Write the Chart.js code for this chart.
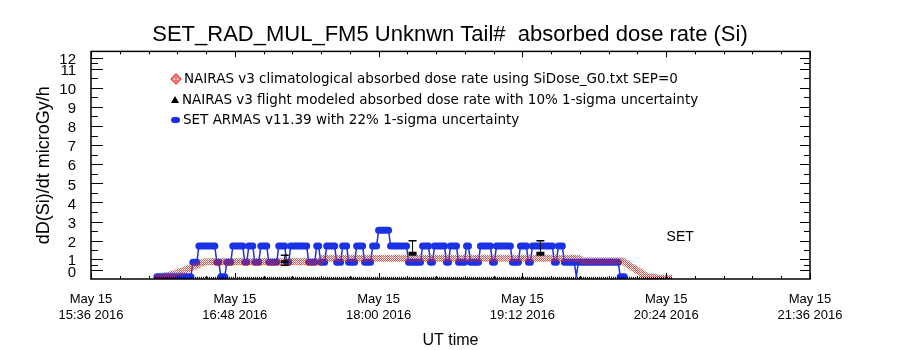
<!DOCTYPE html>
<html lang="en">
<head>
<meta charset="UTF-8">
<title>SET_RAD_MUL_FM5 absorbed dose rate (Si)</title>
<script src="https://cdn.jsdelivr.net/npm/chart.js"></script>
<style>
    body { margin: 0; background: #fff; }
    #quadro { position: relative; width: 900px; height: 350px; }
    #legenda { position: absolute; left: 171px; top: 68px; font: 13.5px "DejaVu Sans", Arial, sans-serif; color: #000; }
    #legenda div { height: 20.5px; line-height: 20.5px; white-space: nowrap; }
    .simbolo { display: inline-block; vertical-align: middle; margin-right: 3px; }
    .losango { width: 6px; height: 6px; margin-left: 1px; margin-right: 4px; transform: rotate(45deg);
        background: repeating-conic-gradient(#e8201c 0 25%, #fff 0 50%) 0 0 / 2px 2px; border: 1px solid #e8201c; }
    .triangulo { width: 0; height: 0; border-left: 4px solid transparent; border-right: 4px solid transparent; border-bottom: 7px solid #000; }
    .pilula { width: 9px; height: 6px; border-radius: 3px; background: #1a32e6; }
</style>
</head>
<body>
<div id="quadro">
    <canvas id="grafico" width="900" height="350"></canvas>
    <div id="legenda"></div>
</div>

<script>
// ---- dados ----
const titulo = 'SET_RAD_MUL_FM5 Unknwn Tail#  absorbed dose rate (Si)';
const tituloY = 'dD(Si)/dt microGy/h';
const tituloX = 'UT time';

const xTicks = ['15:36', '16:48', '18:00', '19:12', '20:24', '21:36'];
const xDia = 'May 15';
const xAno = '2016';

const yTicks = [0.45, 1.05, 2, 3, 4, 5, 6, 7, 8, 9, 10, 11, 11.55];
const yRotulos = ['0', '1', '2', '3', '4', '5', '6', '7', '8', '9', '10', '11', '12'];

const legendas = [
    'NAIRAS v3 climatological absorbed dose rate using SiDose_G0.txt SEP=0',
    'NAIRAS v3 flight modeled absorbed dose rate with 10% 1-sigma uncertainty',
    'SET ARMAS v11.39 with 22% 1-sigma uncertainty'
];

// NAIRAS climatologico (vermelho)
const climaHoras = ['16:08', '16:15', '16:22', '16:28', '16:33', '17:30', '17:32', '19:40', '19:42', '20:02', '20:08', '20:14', '20:20', '20:27'];
const climaValores = [0.05, 0.2, 0.42, 0.68, 0.9, 0.9, 1.08, 1.08, 0.95, 0.95, 0.55, 0.15, 0.05, 0.03];

// NAIRAS voo (preto)
const vooHoras = ['16:08', '20:27'];
const vooValores = [0.04, 0.04];

// barras de erro (preto)
const erroHoras = ['17:13', '18:17', '19:21'];
const erroBaixo = [0.72, 1.25, 1.25];
const erroAlto = [1.24, 2.0, 2.0];
const erroMeio = [0.9, 1.35, 1.35];

// SET ARMAS (azul)
const armasHoras = [
    '16:09', '16:26', '16:27', '16:29', '16:30', '16:38', '16:39', '16:40', '16:41', '16:43',
    '16:44', '16:46', '16:47', '16:52', '16:53', '16:54', '16:55', '16:57', '16:58', '17:00',
    '17:01', '17:04', '17:05', '17:09', '17:10', '17:13', '17:14', '17:15', '17:16', '17:24',
    '17:25', '17:28', '17:29', '17:30', '17:31', '17:33', '17:34', '17:38', '17:39', '17:41',
    '17:42', '17:44', '17:45', '17:48', '17:49', '17:52', '17:53', '17:56', '17:57', '17:59',
    '18:00', '18:05', '18:06', '18:14', '18:15', '18:21', '18:22', '18:25', '18:26', '18:27',
    '18:28', '18:33', '18:34', '18:35', '18:36', '18:39', '18:40', '18:43', '18:44', '18:45',
    '18:46', '18:50', '18:51', '18:56', '18:57', '18:58', '18:59', '19:06', '19:07', '19:10',
    '19:11', '19:14', '19:15', '19:16', '19:17', '19:27', '19:28', '19:29', '19:30', '19:32',
    '19:33', '19:38', '19:39', '19:40', '20:00', '20:01', '20:03'
];
const armasValores = [
    0.12, 0.12, 0.87, 0.87, 1.72, 1.72, 0.87, 0.87, 0.12, 0.12,
    0.87, 0.87, 1.72, 1.72, 0.87, 0.87, 1.72, 1.72, 0.87, 0.87,
    1.72, 1.72, 0.87, 0.87, 1.72, 1.72, 0.87, 0.87, 1.72, 1.72,
    0.87, 0.87, 1.72, 1.72, 0.87, 0.87, 1.72, 1.72, 0.87, 0.87,
    1.72, 1.72, 0.87, 0.87, 1.72, 1.72, 0.87, 0.87, 1.72, 1.72,
    2.55, 2.55, 1.72, 1.72, 0.87, 0.87, 1.72, 1.72, 0.87, 0.87,
    1.72, 1.72, 0.87, 0.87, 1.72, 1.72, 0.87, 0.87, 1.72, 1.72,
    0.87, 0.87, 1.72, 1.72, 0.87, 0.87, 1.72, 1.72, 0.87, 0.87,
    1.72, 1.72, 0.87, 0.87, 1.72, 1.72, 0.87, 0.87, 1.72, 1.72,
    0.87, 0.87, 0.12, 0.87, 0.87, 0.12, 0.12
];

const textoSet = { texto: 'SET', hora: '20:31', valor: 2.2 };

// ---- ajudantes ----
function paraMin(h) {
    const p = h.split(':');
    return Number(p[0]) * 60 + Number(p[1]);
}
function paraHora(m) {
    const hh = Math.floor(m / 60), mm = Math.round(m % 60);
    return String(hh).padStart(2, '0') + ':' + String(mm).padStart(2, '0');
}
function pontos(horas, valores) {
    return horas.map((h, i) => ({ x: paraMin(h), y: valores[i] }));
}

// textura xadrez do vermelho
const tex = document.createElement('canvas');
tex.width = 2; tex.height = 2;
const tctx = tex.getContext('2d');
tctx.fillStyle = 'rgba(232, 32, 28, 0.8)';
tctx.fillRect(0, 0, 1, 1);
tctx.fillRect(1, 1, 1, 1);
const xadrez = document.getElementById('grafico').getContext('2d').createPattern(tex, 'repeat');

// legenda em html
const simbolos = ['losango', 'triangulo', 'pilula'];
document.getElementById('legenda').innerHTML = legendas
    .map((t, i) => `<div><span class="simbolo ${simbolos[i]}"></span>${t}</div>`).join('');

// ---- datasets ----
const conjuntos = [];

conjuntos.push({
    label: legendas[2],
    data: pontos(armasHoras, armasValores),
    borderColor: '#1a32e6',
    borderCapStyle: 'round',
    borderJoinStyle: 'round',
    pointRadius: 0,
    order: 3,
    segment: {
        borderWidth: c => c.p0.parsed.y === c.p1.parsed.y ? 7 : 1.5
    }
});

conjuntos.push({
    label: legendas[0],
    data: pontos(climaHoras, climaValores),
    borderColor: xadrez,
    borderWidth: 7,
    borderJoinStyle: 'round',
    pointRadius: 0,
    order: 2
});

conjuntos.push({
    label: legendas[1],
    data: pontos(vooHoras, vooValores),
    borderColor: '#000',
    borderWidth: 3,
    borderDash: [1, 1],
    pointRadius: 0,
    order: 1
});

erroHoras.forEach((h, i) => {
    conjuntos.push({
        label: 'erro' + i,
        data: [{ x: paraMin(h), y: erroBaixo[i] }, { x: paraMin(h), y: erroAlto[i] }],
        borderColor: '#000',
        borderWidth: 1,
        pointStyle: 'line',
        pointRadius: 4,
        pointBorderWidth: 1.5,
        pointBorderColor: '#000',
        order: 0
    });
});

conjuntos.push({
    label: 'meio',
    data: pontos(erroHoras, erroMeio),
    showLine: false,
    pointStyle: 'line',
    pointRadius: 4,
    pointBorderWidth: 3,
    pointBorderColor: '#000',
    order: 0
});

// ---- moldura com marcas internas (estilo IDL) ----
const moldura = {
    id: 'moldura',
    afterDatasetsDraw(chart) {
        const { ctx, chartArea: a, scales: { x, y } } = chart;
        ctx.save();
        ctx.strokeStyle = '#000';
        ctx.lineWidth = 1.5;
        ctx.strokeRect(a.left, a.top, a.right - a.left, a.bottom - a.top);

        ctx.lineWidth = 1;
        ctx.beginPath();
        const xt = xTicks.map(paraMin);
        for (let i = 0; i < xt.length; i++) {
            const px = Math.round(x.getPixelForValue(xt[i])) + 0.5;
            ctx.moveTo(px, a.bottom); ctx.lineTo(px, a.bottom - 6);
            ctx.moveTo(px, a.top); ctx.lineTo(px, a.top + 6);
            if (i < xt.length - 1) {
                for (let k = 1; k < 5; k++) {
                    const pm = Math.round(x.getPixelForValue(xt[i] + (xt[i + 1] - xt[i]) * k / 5)) + 0.5;
                    ctx.moveTo(pm, a.bottom); ctx.lineTo(pm, a.bottom - 3);
                    ctx.moveTo(pm, a.top); ctx.lineTo(pm, a.top + 3);
                }
            }
        }
        for (let i = 0; i < yTicks.length; i++) {
            const py = Math.round(y.getPixelForValue(yTicks[i])) + 0.5;
            ctx.moveTo(a.left, py); ctx.lineTo(a.left + 12, py);
            ctx.moveTo(a.right, py); ctx.lineTo(a.right - 10, py);
            if (i < yTicks.length - 1) {
                const pm = Math.round(y.getPixelForValue((yTicks[i] + yTicks[i + 1]) / 2)) + 0.5;
                ctx.moveTo(a.left, pm); ctx.lineTo(a.left + 7, pm);
                ctx.moveTo(a.right, pm); ctx.lineTo(a.right - 6, pm);
            }
        }
        ctx.stroke();

        ctx.fillStyle = '#000';
        ctx.font = '14px "Liberation Sans", Arial, sans-serif';
        ctx.textAlign = 'center';
        ctx.textBaseline = 'middle';
        ctx.fillText(textoSet.texto, x.getPixelForValue(paraMin(textoSet.hora)), y.getPixelForValue(textoSet.valor));
        ctx.restore();
    }
};

Chart.defaults.font.family = '"Liberation Sans", Arial, sans-serif';
Chart.defaults.color = '#000';

const grafico = new Chart(document.getElementById('grafico'), {
    type: 'line',
    data: { datasets: conjuntos },
    options: {
        responsive: false,
        animation: false,
        layout: { padding: 0 },
        plugins: {
            legend: { display: false },
            tooltip: { enabled: false },
            title: {
                display: true,
                text: titulo,
                font: { size: 22, weight: 'normal' },
                padding: { top: 22, bottom: 3 }
            }
        },
        scales: {
            x: {
                type: 'linear',
                min: paraMin(xTicks[0]),
                max: paraMin(xTicks[xTicks.length - 1]),
                grid: { display: false },
                border: { display: false },
                afterBuildTicks: s => { s.ticks = xTicks.map(h => ({ value: paraMin(h) })); },
                afterFit: s => { s.height = 71; },
                ticks: {
                    autoSkip: false,
                    maxRotation: 0,
                    padding: 4,
                    font: { size: 13, lineHeight: 1.25 },
                    callback: v => [xDia, paraHora(v) + ' ' + xAno]
                },
                title: { display: true, text: tituloX, font: { size: 16 }, padding: { top: 0, bottom: 0 } }
            },
            y: {
                min: 0,
                max: 11.9,
                grid: { display: false },
                border: { display: false },
                afterBuildTicks: s => { s.ticks = yTicks.map(v => ({ value: v })); },
                afterFit: s => { s.width = 91; },
                ticks: {
                    autoSkip: false,
                    padding: 7,
                    labelOffset: 2,
                    font: { size: 15 },
                    callback: (v, i) => yRotulos[i]
                },
                title: { display: true, text: tituloY, font: { size: 18 }, padding: { top: 33, bottom: 0 } }
            },
            // eixo vazio a direita so para reservar a margem
            margem: {
                type: 'linear',
                position: 'right',
                grid: { display: false },
                border: { display: false },
                ticks: { display: false },
                afterFit: s => { s.width = 90; }
            }
        }
    },
    plugins: [moldura]
});
</script>
</body>
</html>
